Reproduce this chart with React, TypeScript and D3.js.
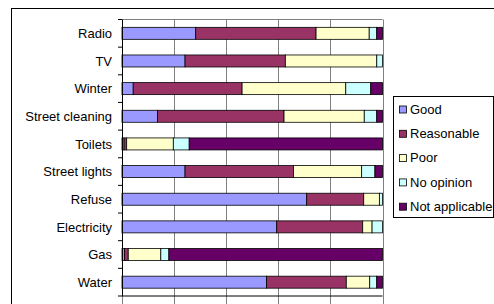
import React from "react"
import * as d3 from "d3"

// categories, top to bottom
const categories = ["Radio", "TV", "Winter", "Street cleaning", "Toilets", "Street lights", "Refuse", "Electricity", "Gas", "Water"]
const seriesNames = ["Good", "Reasonable", "Poor", "No opinion", "Not applicable"]
const seriesColors = ["#9999FF", "#993366", "#FFFFCC", "#CCFFFF", "#660066"]

// percentages per category
const good = [28.3, 24.2, 4.3, 13.6, 0.8, 24.2, 70.9, 59.4, 1.0, 55.5]
const reasonable = [46.2, 38.5, 41.8, 48.6, 1.0, 41.6, 21.9, 33.0, 1.4, 30.6]
const poor = [20.4, 35.1, 39.8, 30.8, 17.9, 26.2, 6.0, 3.6, 12.5, 9.0]
const noOpinion = [2.9, 2.2, 9.6, 4.8, 6.1, 5.1, 1.2, 4.0, 3.1, 2.7]
const notApplicable = [2.2, 0, 4.5, 2.2, 74.2, 2.9, 0, 0, 82.0, 2.2]

const xTicks = [0, 0.2, 0.4, 0.6, 0.8, 1]

const W = 494
const H = 304
const margin = { left: 122, top: 19.5, right: 111.5, bottom: 8 }

const App: React.FC = () => {
  const rows = categories.map((c, i) => ({
    category: c,
    Good: good[i],
    Reasonable: reasonable[i],
    Poor: poor[i],
    "No opinion": noOpinion[i],
    "Not applicable": notApplicable[i],
  }))

  const stack = d3.stack<any>().keys(seriesNames).offset(d3.stackOffsetExpand)
  const layers = stack(rows)

  const x = d3.scaleLinear().domain([0, 1]).range([margin.left, W - margin.right])
  const y = d3.scaleBand<string>()
    .domain(categories)
    .range([margin.top, H - margin.bottom])
    .paddingInner(0.566)
    .paddingOuter(0.283)

  const step = y.step()
  const boundaries = d3.range(categories.length + 1).map(i => margin.top + i * step)
  const plotBottom = H - margin.bottom
  const x0 = x(0)
  const x1 = x(1)

  return (
    <svg width={W} height={H} style={{ position: "absolute", left: 0, top: 0, fontFamily: "'Liberation Sans', Arial, sans-serif" }}>
      <rect x={0} y={0} width={W} height={H} fill="#fff" />
      {/* outer chart border */}
      <rect x={11.5} y={8.5} width={W + 10} height={H + 10} fill="none" stroke="#000" strokeWidth={1} />

      {/* grid */}
      {xTicks.map(t => (
        <line key={t} x1={Math.round(x(t)) + 0.5} x2={Math.round(x(t)) + 0.5} y1={margin.top} y2={H} stroke="#808080" strokeWidth={1} />
      ))}
      <line x1={x0} x2={x1} y1={margin.top} y2={margin.top} stroke="#808080" />

      {/* bars */}
      {layers.map((layer, si) => (
        <g key={layer.key} fill={seriesColors[si]} stroke="#000" strokeWidth={0.8}>
          {layer.map((d, i) => {
            const w = x(d[1]) - x(d[0])
            if (w <= 0) return null
            return (
              <rect key={i} x={x(d[0])} y={y(categories[i])!} width={w} height={y.bandwidth()} />
            )
          })}
        </g>
      ))}

      {/* axes */}
      <line x1={Math.round(x0) + 0.5} x2={Math.round(x0) + 0.5} y1={margin.top} y2={plotBottom} stroke="#000" />
      {boundaries.map((b, i) => (
        <line key={i} x1={x0 - 4} x2={x0} y1={b} y2={b} stroke="#000" />
      ))}
      <line x1={x0} x2={x1} y1={plotBottom} y2={plotBottom} stroke="#000" />

      {/* category labels */}
      {categories.map(c => (
        <text key={c} x={112} y={y(c)! + y.bandwidth() / 2} dy="0.36em" textAnchor="end" fontSize={13} fill="#000">{c}</text>
      ))}

      {/* legend */}
      <rect x={393.5} y={96.5} width={100} height={121} fill="#fff" stroke="#000" />
      {seriesNames.map((s, i) => {
        const cy = 109 + i * 24.3
        return (
          <g key={s}>
            <rect x={399.5} y={cy - 3} width={7} height={7} fill={seriesColors[i]} stroke="#000" strokeWidth={0.8} />
            <text x={410} y={cy} dy="0.36em" fontSize={13} fill="#000">{s}</text>
          </g>
        )
      })}
    </svg>
  )
}

export default App
